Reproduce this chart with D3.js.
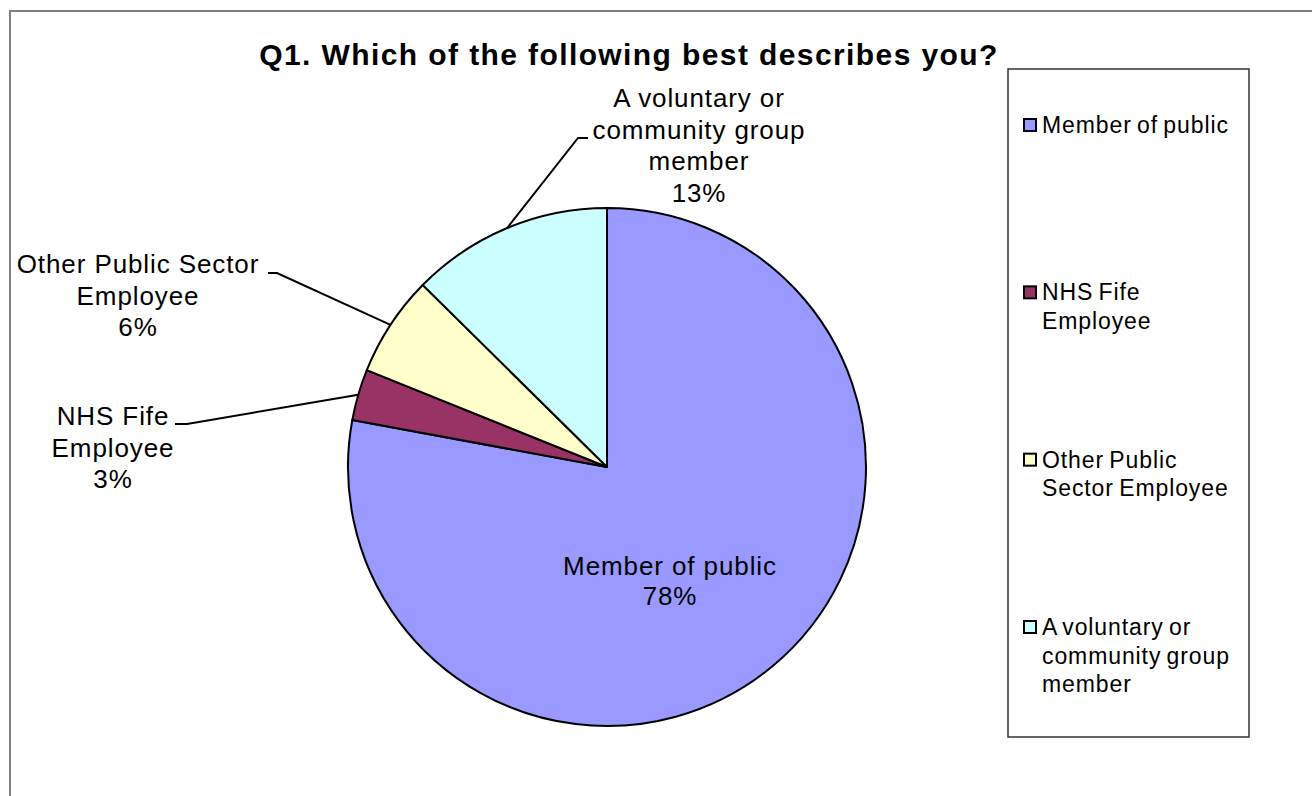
<!DOCTYPE html>
<html>
<head>
<meta charset="utf-8">
<script src="https://cdn.jsdelivr.net/npm/d3@7"></script>
<style>
  html, body { margin: 0; padding: 0; background: #fff; }
  svg { display: block; font-family: "Liberation Sans", Arial, sans-serif; }
</style>
</head>
<body>
<svg id="chart" width="1312" height="796"></svg>
<script>
// ---- data ----
const title = "Q1. Which of the following best describes you?";
const categories = ["Member of public", "NHS Fife Employee", "Other Public Sector Employee", "A voluntary or community group member"];
const values = [77.9, 3.2, 6.3, 12.6];
const colors = ["#9999FF", "#993366", "#FFFFCC", "#CCFFFF"];
const labelLines = [["Member of public"], ["NHS Fife", "Employee"], ["Other Public Sector", "Employee"], ["A voluntary or", "community group", "member"]];
const legendLines = [["Member of public"], ["NHS Fife", "Employee"], ["Other Public", "Sector Employee"], ["A voluntary or", "community group", "member"]];

// ---- layout ----
const W = 1312, H = 796;
const cx = 607, cy = 467, R = 259;
// label placement: text centre x, first baseline y, leader elbow and end (null = inside)
const labelLayout = [
  { x: 670, y: 575, elbow: null },
  { x: 113, y: 425, elbow: [187, 424], end: [175, 424] },
  { x: 138, y: 273, elbow: [277, 273], end: [268, 273] },
  { x: 699, y: 107, elbow: [578, 138], end: [588, 138] }
];

const svg = d3.select("#chart");

// outer frame
svg.append("rect")
  .attr("x", 10).attr("y", 11).attr("width", W + 20).attr("height", H + 20)
  .attr("fill", "#fff").attr("stroke", "#808080").attr("stroke-width", 2);

// title
svg.append("text")
  .attr("x", 629).attr("y", 65)
  .attr("text-anchor", "middle")
  .attr("font-size", 30).attr("font-weight", "bold")
  .attr("letter-spacing", "1.4px")
  .attr("fill", "#000")
  .text(title);

// pie
const pie = d3.pie().sort(null).value(d => d).startAngle(0).endAngle(2 * Math.PI);
const arcs = pie(values);
const arc = d3.arc().innerRadius(0).outerRadius(R);

const g = svg.append("g").attr("transform", `translate(${cx},${cy})`);
g.selectAll("path.slice")
  .data(arcs)
  .join("path")
  .attr("class", "slice")
  .attr("d", arc)
  .attr("fill", (d, i) => colors[i])
  .attr("stroke", "#000")
  .attr("stroke-width", 2)
  .attr("stroke-linejoin", "round");

// leader lines
arcs.forEach((d, i) => {
  const L = labelLayout[i];
  if (!L.elbow) return;
  const mid = (d.startAngle + d.endAngle) / 2;
  const sx = cx + R * Math.sin(mid), sy = cy - R * Math.cos(mid);
  svg.append("polyline")
    .attr("points", [[sx, sy], L.elbow, L.end].map(p => p.join(",")).join(" "))
    .attr("fill", "none").attr("stroke", "#000").attr("stroke-width", 2);
});

// data labels
arcs.forEach((d, i) => {
  const L = labelLayout[i];
  const lines = labelLines[i].concat([Math.round(values[i]) + "%"]);
  const lh = i === 0 ? 30 : 31.7;
  const t = svg.append("text")
    .attr("text-anchor", "middle")
    .attr("font-size", 26)
    .attr("letter-spacing", "0.9px")
    .attr("fill", "#000");
  lines.forEach((s, k) => {
    t.append("tspan").attr("x", L.x).attr("y", L.y + k * lh).text(s);
  });
});

// legend
const lg = svg.append("g");
lg.append("rect")
  .attr("x", 1008).attr("y", 69).attr("width", 241).attr("height", 668)
  .attr("fill", "#fff").attr("stroke", "#333").attr("stroke-width", 1.5);
const legendY = d3.scalePoint().domain(categories).range([133, 635]);
categories.forEach((c, i) => {
  const y0 = legendY(c);
  lg.append("rect")
    .attr("x", 1024).attr("y", y0 - 14).attr("width", 12).attr("height", 12)
    .attr("fill", colors[i]).attr("stroke", "#000").attr("stroke-width", 2);
  const t = lg.append("text")
    .attr("font-size", 23)
    .attr("letter-spacing", "0.9px")
    .attr("word-spacing", "-2px")
    .attr("fill", "#000");
  legendLines[i].forEach((s, k) => {
    t.append("tspan").attr("x", 1042).attr("y", y0 + k * 28.5).text(s);
  });
});
</script>
</body>
</html>
